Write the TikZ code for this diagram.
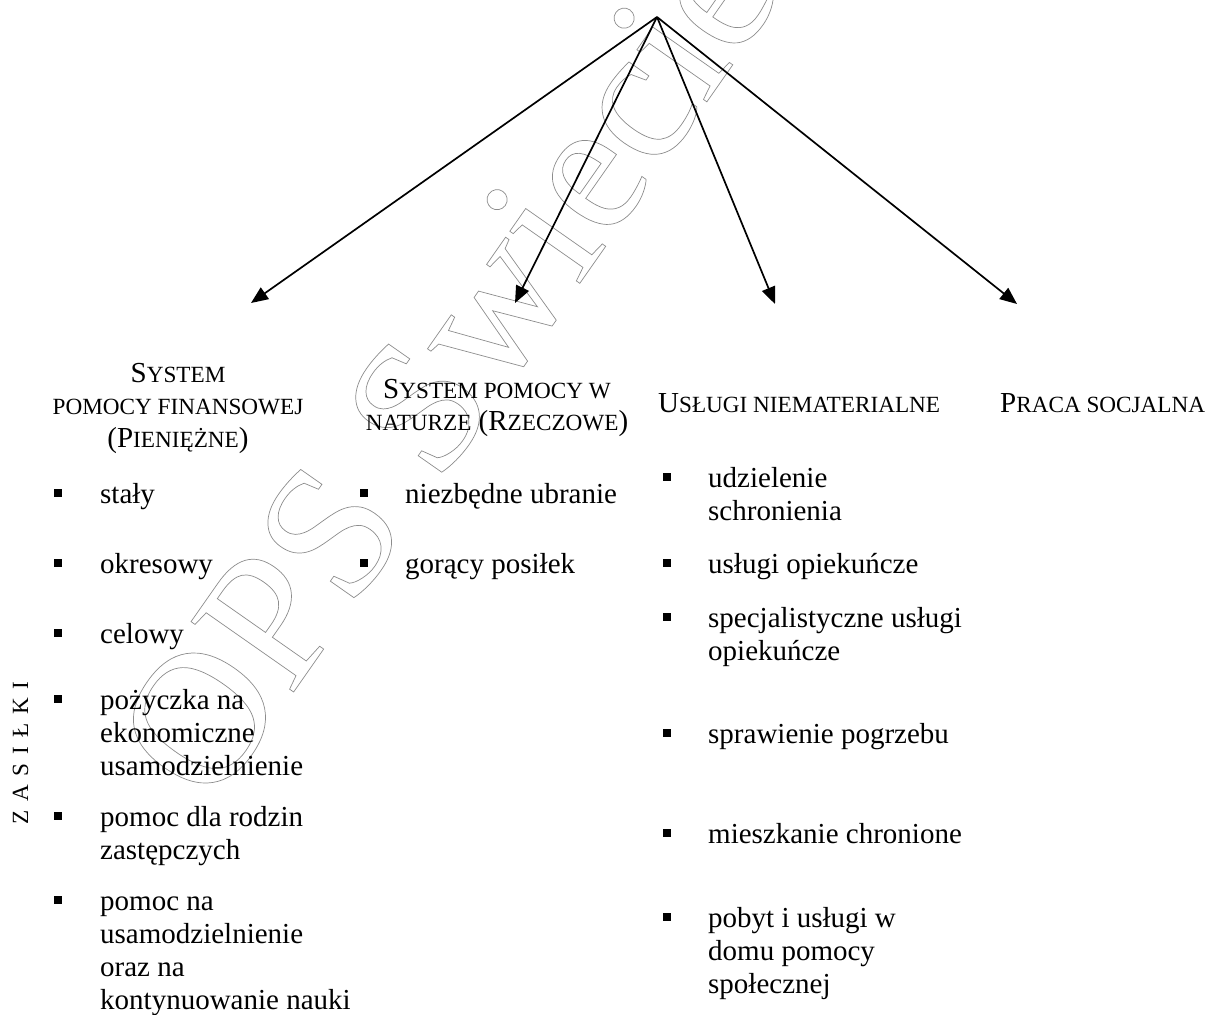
\documentclass[tikz,border=0pt]{standalone}
\usepackage{fontspec}
\setmainfont{Liberation Serif}
\usetikzlibrary{arrows.meta}
\newcommand\sm[1]{{\fontsize{23.2}{33}\selectfont #1}}
\newcommand\hd[1]{\vtop{\baselineskip=32.5pt\halign{\hfil##\hfil\cr#1\crcr}}}
\newcommand\itm[1]{\vtop{\baselineskip=33pt\halign{##\hfil\cr#1\crcr}}}
\begin{document}
\begin{tikzpicture}[x=1pt,y=-1pt,
  font=\fontsize{29}{33}\selectfont,
  txt/.style={inner sep=0pt, anchor=base west},
  hdg/.style={inner sep=0pt, anchor=base},
  sq/.style={rectangle, fill=black, inner sep=0pt, minimum size=8.5pt},
  arr/.style={line width=1.7pt, -{Triangle[length=17pt,width=14pt]}},
  wmark/.style={rotate=55, anchor=base west, inner sep=0pt, text=black!45,
    font=\fontsize{190}{190}\selectfont}]
\useasboundingbox (0,0) rectangle (1214,1014);

% watermark (outlined text)
\node[wmark] (wm) at (211,810) {\special{pdf:literal direct 0.7 w 1 Tr}OPS Swiecie\special{pdf:literal direct 0 Tr}};

% arrows
\coordinate (apex) at (657,17);
\coordinate (t1) at (251,303);
\coordinate (t2) at (515,303);
\coordinate (t3) at (775,304);
\coordinate (t4) at (1017,304);
\draw[arr] (apex) -- (t1);
\draw[arr] (apex) -- (t2);
\draw[arr] (apex) -- (t3);
\draw[arr] (apex) -- (t4);

% headings
\node[hdg] (h1) at (178,382) {\hd{S\sm{YSTEM}\cr \sm{POMOCY FINANSOWEJ}\cr (P\sm{IENIĘŻNE})}};
\node[hdg] (h2) at (497,398) {\hd{S\sm{YSTEM POMOCY W}\cr \sm{NATURZE} (R\sm{ZECZOWE})}};
\node[txt] (h3) at (658,412) {U\sm{SŁUGI NIEMATERIALNE}};
\node[txt] (h4) at (1000,412) {P\sm{RACA SOCJALNA}};

% side label
\node[rotate=90, anchor=base, inner sep=0pt, font=\fontsize{23.2}{28}\selectfont] (zas) at (28,753) {\spaceskip=8.8pt Z A S I Ł K I};

% column 1
\node[sq] (b11) at (58,493) {};
\node[txt] (a11) at (100,503) {stały};
\node[sq] (b12) at (58,563) {};
\node[txt] (a12) at (100,573) {okresowy};
\node[sq] (b13) at (58,633) {};
\node[txt] (a13) at (100,643) {celowy};
\node[sq] (b14) at (58,699) {};
\node[txt] (a14) at (100,709) {\itm{pożyczka na\cr ekonomiczne\cr usamodzielnienie}};
\node[sq] (b15) at (58,816) {};
\node[txt] (a15) at (100,826) {\itm{pomoc dla rodzin\cr zastępczych}};
\node[sq] (b16) at (58,900) {};
\node[txt] (a16) at (100,910) {\itm{pomoc na\cr usamodzielnienie\cr oraz na\cr kontynuowanie nauki}};

% column 2
\node[sq] (b21) at (364,493) {};
\node[txt] (a21) at (405,503) {niezbędne ubranie};
\node[sq] (b22) at (364,563) {};
\node[txt] (a22) at (405,573) {gorący posiłek};

% column 3
\node[sq] (b31) at (667,477) {};
\node[txt] (a31) at (708,487) {\itm{udzielenie\cr schronienia}};
\node[sq] (b32) at (667,563) {};
\node[txt] (a32) at (708,573) {usługi opiekuńcze};
\node[sq] (b33) at (667,617) {};
\node[txt] (a33) at (708,627) {\itm{specjalistyczne usługi\cr opiekuńcze}};
\node[sq] (b34) at (667,733) {};
\node[txt] (a34) at (708,743) {sprawienie pogrzebu};
\node[sq] (b35) at (667,833) {};
\node[txt] (a35) at (708,843) {mieszkanie chronione};
\node[sq] (b36) at (667,917) {};
\node[txt] (a36) at (708,927) {\itm{pobyt i usługi w\cr domu pomocy\cr społecznej}};
\end{tikzpicture}
\end{document}
